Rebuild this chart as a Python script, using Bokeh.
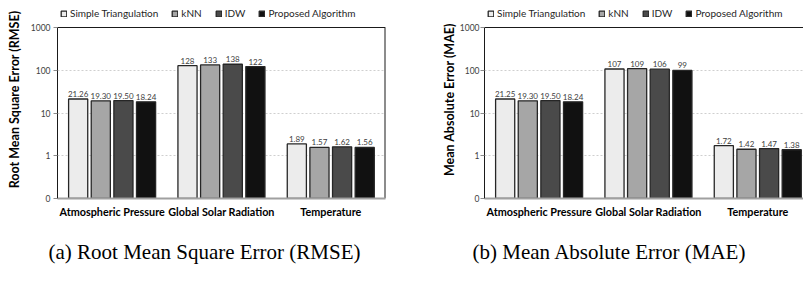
from bokeh.plotting import figure
from bokeh.models import (ColumnDataSource, Range1d, FixedTicker, LabelSet,
                          Legend, LegendItem, Title, Span)
from bokeh.layouts import row
from bokeh.embed import file_html
from bokeh.resources import INLINE
from bokeh.core.properties import value
import math

# ---------------- data ----------------
categories = ["Atmospheric Pressure", "Global Solar Radiation", "Temperature"]
methods = ["Simple Triangulation", "kNN", "IDW", "Proposed Algorithm"]

rmse_triangulation = [21.26, 128, 1.89]
rmse_knn = [19.30, 133, 1.57]
rmse_idw = [19.50, 138, 1.62]
rmse_proposed = [18.24, 122, 1.56]

mae_triangulation = [21.25, 107, 1.72]
mae_knn = [19.30, 109, 1.42]
mae_idw = [19.50, 106, 1.47]
mae_proposed = [18.24, 99, 1.38]

y_ticks = [0.1, 1, 10, 100, 1000]
y_tick_labels = ["0", "1", "10", "100", "1000"]

# ---------------- style / layout ----------------
colors = ["#ececec", "#a6a6a6", "#4a4a4a", "#111111"]
offsets = [-0.311, -0.104, 0.103, 0.31]
BAR_W = 0.175
FONT = "Lato"
AXIS_PX = 171          # pixel height of the axis area (0.1 .. 1000)
TOP_PX = 27            # legend strip above the axis area
FIG_H = 281
Y_END = 10 ** (math.log10(y_ticks[-1]) +
               TOP_PX / AXIS_PX * (math.log10(y_ticks[-1]) - math.log10(y_ticks[0])))


def fmt(v):
    return f"{v:.0f}" if float(v).is_integer() else f"{v:.2f}"


def make_panel(series, ylabel, caption, width, border_left, border_right,
               x_end, title_standoff, tick_standoff, caption_offset, right_border):
    p = figure(width=width, height=FIG_H, output_backend="svg",
               toolbar_location=None, y_axis_type="log",
               x_range=Range1d(0, x_end),
               y_range=Range1d(y_ticks[0], Y_END),
               min_border_left=border_left, min_border_right=border_right,
               min_border_top=0, min_border_bottom=FIG_H - AXIS_PX - TOP_PX)
    p.background_fill_color = "white"
    p.border_fill_color = "white"
    p.outline_line_color = None

    # frame lines (top, and right for panel a)
    p.add_layout(Span(location=y_ticks[-1], dimension="width",
                      line_color="#1a1a1a", line_width=1, level="overlay"))
    if right_border:
        p.segment(x0=[x_end], y0=[y_ticks[0]], x1=[x_end], y1=[y_ticks[-1]],
                  line_color="#1a1a1a", line_width=2)

    renderers = []
    for j, vals in enumerate(series):
        src = ColumnDataSource(dict(
            x=[i + 0.5 + offsets[j] for i in range(len(categories))],
            top=vals,
            label=[fmt(v) for v in vals],
        ))
        r = p.vbar(x="x", top="top", bottom=y_ticks[0], width=BAR_W,
                   source=src, fill_color=colors[j],
                   line_color="#262626", line_width=1.3)
        renderers.append(r)
        p.add_layout(LabelSet(x="x", y="top", text="label", source=src,
                              y_offset=2, text_align="center",
                              text_baseline="bottom",
                              text_font=value(FONT),
                              text_font_size="8px", text_color="#404040"))

    # y axis
    yax = p.yaxis[0]
    yax.ticker = FixedTicker(ticks=y_ticks)
    yax.bounds = (y_ticks[0], y_ticks[-1])
    yax.major_label_overrides = {t: l for t, l in zip(y_ticks, y_tick_labels)}
    yax.axis_label = ylabel
    yax.axis_label_text_font = FONT
    yax.axis_label_text_font_style = "bold"
    yax.axis_label_text_font_size = "12.5px"
    yax.axis_label_text_color = "#000000"
    yax.axis_label_standoff = title_standoff
    yax.major_label_text_font = FONT
    yax.major_label_text_font_size = "8.5px"
    yax.major_label_text_color = "#404040"
    yax.major_label_standoff = tick_standoff
    yax.major_tick_out = 4
    yax.major_tick_in = 0
    yax.major_tick_line_color = "#8c8c8c"
    yax.minor_tick_line_color = None
    yax.axis_line_color = "#1a1a1a"
    yax.axis_line_width = 1

    # x axis
    xax = p.xaxis[0]
    xt = [i + 0.5 for i in range(len(categories))]
    xax.ticker = FixedTicker(ticks=xt)
    xax.major_label_overrides = {t: c for t, c in zip(xt, categories)}
    xax.major_label_text_font = FONT
    xax.major_label_text_font_style = "bold"
    xax.major_label_text_font_size = "10.8px"
    xax.major_label_text_color = "#000000"
    xax.major_label_standoff = 6
    xax.major_tick_out = 0
    xax.major_tick_in = 0
    xax.minor_tick_line_color = None
    xax.axis_line_color = "#a0a0a0"
    xax.axis_line_width = 2

    # grid
    p.xgrid.grid_line_color = None
    p.ygrid.grid_line_color = "#cfcfcf"
    p.ygrid.grid_line_dash = "2 2"
    p.ygrid.grid_line_width = 1
    p.ygrid.minor_grid_line_color = None

    legend = Legend(items=[LegendItem(label=m, renderers=[r])
                           for m, r in zip(methods, renderers)],
                    location=(3, AXIS_PX + 8), orientation="horizontal",
                    glyph_width=7, glyph_height=7, label_standoff=3,
                    spacing=13, padding=0, margin=0,
                    border_line_color=None, background_fill_alpha=0,
                    label_text_font=FONT, label_text_font_size="10px",
                    label_text_color="#1f1f1f", label_height=10)
    p.add_layout(legend)

    p.add_layout(Title(text=caption, align="left", offset=caption_offset,
                       text_font="Liberation Serif", text_font_size="21px",
                       text_font_style="normal", text_color="#000000",
                       standoff=35), "below")
    return p


pa = make_panel([rmse_triangulation, rmse_knn, rmse_idw, rmse_proposed],
                "Root Mean Square Error (RMSE)",
                "(a) Root Mean Square Error (RMSE)",
                width=405, border_left=57, border_right=20, x_end=3,
                title_standoff=6, tick_standoff=3, caption_offset=-9,
                right_border=True)

pb = make_panel([mae_triangulation, mae_knn, mae_idw, mae_proposed],
                "Mean Absolute Error (MAE)",
                "(b) Mean Absolute Error (MAE)",
                width=398, border_left=79, border_right=0, x_end=319 / 109.33,
                title_standoff=0, tick_standoff=1, caption_offset=-12,
                right_border=False)

layout = row(pa, pb, spacing=0)
open("out.html", "w").write(file_html(layout, INLINE))
